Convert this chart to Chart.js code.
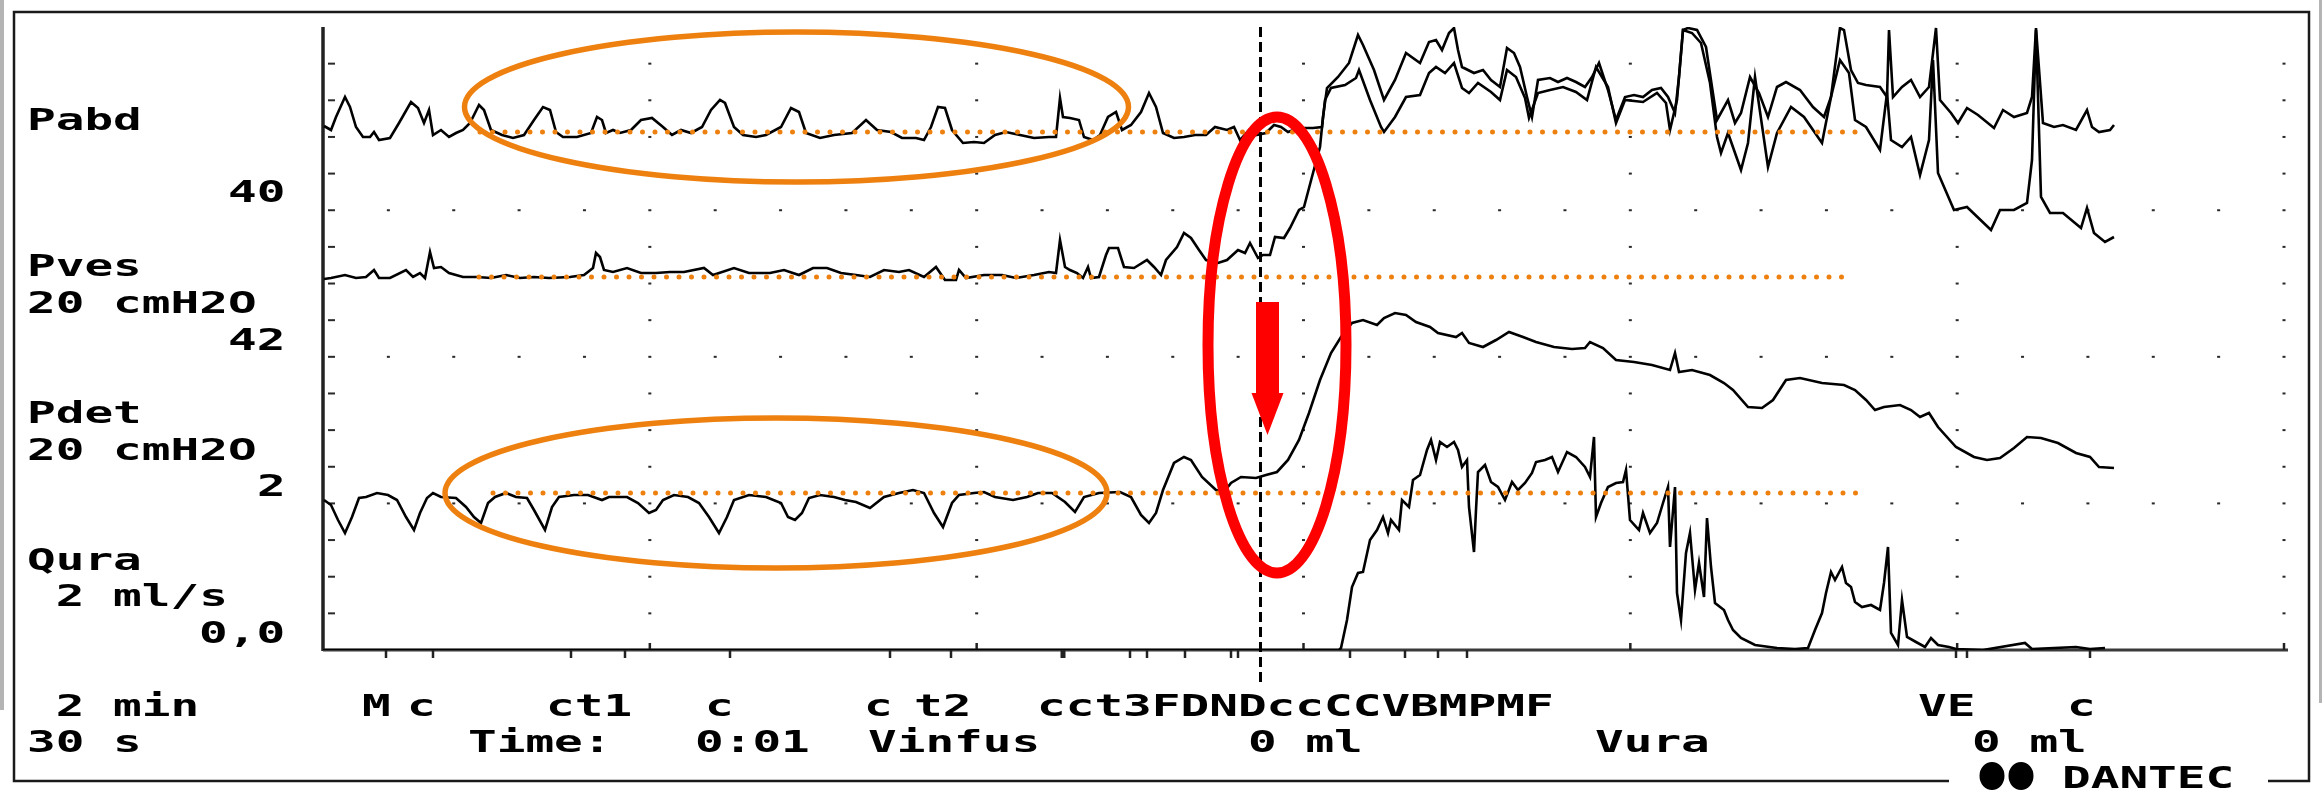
<!DOCTYPE html>
<html lang="en">
<head>
  <meta charset="UTF-8" />
  <title>Urodynamics trace</title>
  <script src="https://cdn.jsdelivr.net/npm/chart.js"></script>
  <style>
    html, body { margin: 0; padding: 0; background: #fff; }
    canvas { display: block; }
  </style>
</head>
<body>
  <canvas id="trace" width="2323" height="791"></canvas>

  <script>
    // x = time in recorder samples (0..1961), y = display level (0..623)
    const pabd = [[1,524],[8,520],[13,533],[22,553],[27,543],[33,523],[40,513],[47,513],[51,518],[56,510],[67,512],[76,527],[88,548],[95,542],[101,527],[106,540],[110,515],[118,520],[126,513],[133,517],[140,520],[147,527],[156,545],[161,540],[168,520],[179,515],[190,512],[201,515],[211,530],[220,543],[227,540],[233,518],[240,513],[254,513],[268,517],[274,533],[279,530],[283,517],[290,520],[297,517],[308,520],[318,530],[329,532],[340,523],[349,515],[358,520],[368,517],[379,523],[388,540],[397,550],[402,547],[411,523],[420,515],[433,513],[443,515],[458,523],[468,542],[476,538],[483,517],[497,512],[511,515],[529,517],[543,530],[554,520],[568,518],[579,512],[593,512],[601,510],[608,523],[615,543],[622,542],[629,520],[640,507],[651,508],[661,507],[672,515],[683,518],[697,515],[711,512],[726,513],[733,513],[737,552],[740,533],[747,532],[756,530],[761,513],[770,510],[777,515],[785,533],[793,538],[799,520],[808,525],[818,538],[826,557],[833,543],[840,517],[851,512],[861,513],[872,515],[883,515],[892,523],[904,520],[911,523],[917,510],[926,520],[933,515],[943,517],[951,525],[958,523],[965,518],[976,522],[990,522],[999,523],[1002,550],[1008,562],[1022,565],[1033,572],[1036,580],[1047,550],[1058,523],[1061,518],[1072,533],[1083,553],[1097,555],[1106,577],[1113,583],[1122,577],[1131,587],[1139,562],[1146,557],[1155,567],[1168,558],[1177,550],[1184,580],[1193,573],[1202,552],[1206,532],[1215,557],[1227,560],[1240,563],[1253,558],[1264,550],[1273,583],[1285,563],[1293,527],[1302,550],[1320,548],[1334,557],[1343,547],[1347,520],[1354,550],[1360,620],[1369,617],[1378,607],[1387,567],[1394,513],[1398,497],[1405,517],[1418,480],[1425,507],[1432,573],[1445,483],[1454,517],[1468,543],[1481,533],[1499,507],[1508,553],[1517,590],[1526,577],[1532,530],[1543,523],[1557,500],[1564,557],[1568,510],[1579,503],[1588,513],[1597,475],[1606,510],[1610,590],[1615,477],[1631,440],[1644,443],[1668,420],[1677,440],[1691,440],[1704,447],[1709,490],[1713,620],[1718,453],[1727,437],[1740,437],[1758,422],[1764,442],[1771,417],[1782,408],[1791,413]];

    const pves = [[1,371],[8,372],[22,375],[33,372],[43,373],[51,380],[56,372],[67,372],[83,380],[90,373],[97,377],[102,372],[107,398],[111,382],[118,383],[126,377],[140,373],[154,373],[168,372],[183,375],[197,372],[211,373],[226,372],[247,373],[261,375],[270,382],[273,397],[277,393],[281,380],[290,378],[304,382],[318,377],[333,377],[347,378],[361,378],[381,382],[390,375],[411,382],[426,377],[447,377],[461,380],[476,375],[490,382],[504,382],[518,377],[533,375],[547,373],[561,380],[576,378],[586,380],[601,373],[613,383],[622,370],[633,370],[636,380],[643,372],[661,375],[679,375],[693,372],[711,375],[726,378],[733,377],[737,410],[742,383],[747,380],[754,377],[760,372],[765,383],[768,372],[776,373],[783,395],[786,402],[795,402],[801,383],[811,382],[824,390],[831,383],[838,375],[843,390],[854,403],[861,417],[868,412],[876,400],[883,390],[895,387],[904,390],[915,400],[922,397],[927,407],[935,392],[940,395],[947,395],[952,413],[961,412],[967,422],[976,440],[981,443],[990,477],[997,503],[1000,533],[1004,562],[1015,573],[1026,587],[1035,615],[1040,605],[1051,580],[1061,550],[1072,570],[1083,597],[1097,587],[1106,608],[1113,610],[1119,600],[1126,617],[1131,622],[1135,600],[1139,583],[1151,577],[1160,580],[1168,570],[1177,563],[1184,602],[1191,597],[1197,583],[1204,553],[1209,533],[1215,570],[1227,572],[1235,568],[1244,572],[1253,568],[1262,563],[1269,573],[1276,587],[1285,560],[1293,530],[1302,553],[1311,555],[1320,553],[1329,560],[1338,562],[1345,553],[1352,537],[1356,573],[1360,620],[1365,622],[1374,620],[1383,603],[1389,563],[1394,530],[1405,550],[1412,527],[1418,537],[1427,573],[1436,557],[1445,533],[1454,563],[1463,568],[1477,560],[1490,543],[1501,533],[1508,553],[1517,622],[1521,620],[1528,580],[1535,567],[1543,565],[1557,563],[1564,553],[1566,620],[1570,553],[1579,563],[1588,570],[1597,553],[1606,563],[1613,622],[1617,550],[1628,537],[1635,527],[1644,542],[1655,535],[1671,522],[1680,540],[1691,533],[1704,537],[1709,553],[1713,622],[1720,527],[1731,523],[1740,525],[1753,520],[1764,540],[1769,523],[1776,518],[1787,520],[1791,525]];

    const pdet = [[1,150],[8,145],[15,130],[22,117],[29,133],[36,152],[43,153],[54,157],[65,155],[74,150],[83,133],[91,120],[97,137],[104,152],[110,157],[118,153],[133,152],[143,143],[151,133],[158,127],[165,147],[172,153],[183,157],[193,153],[204,152],[211,140],[222,120],[229,143],[236,153],[251,155],[265,155],[279,150],[286,153],[304,153],[315,147],[326,137],[333,140],[340,150],[351,155],[365,153],[376,147],[386,133],[396,117],[404,133],[411,150],[426,155],[443,153],[458,147],[465,133],[472,130],[479,137],[486,152],[497,155],[511,153],[522,150],[533,148],[547,142],[561,153],[576,157],[590,160],[601,157],[611,137],[620,123],[629,147],[636,155],[651,157],[661,158],[672,153],[690,150],[704,153],[715,157],[729,157],[742,148],[752,138],[761,153],[776,157],[797,158],[808,153],[818,135],[826,127],[833,137],[840,160],[851,187],[861,193],[868,190],[879,173],[893,160],[901,158],[908,167],[918,173],[933,172],[943,175],[954,178],[965,190],[976,210],[986,237],[997,270],[1008,297],[1018,313],[1029,327],[1040,330],[1054,325],[1061,332],[1072,337],[1083,335],[1093,328],[1107,323],[1115,317],[1133,313],[1139,317],[1146,307],[1160,303],[1173,310],[1186,318],[1200,313],[1213,308],[1231,303],[1249,301],[1262,302],[1267,308],[1280,302],[1293,290],[1311,288],[1329,285],[1347,280],[1352,297],[1356,278],[1369,280],[1387,275],[1401,267],[1410,260],[1425,243],[1439,242],[1450,250],[1463,270],[1477,272],[1499,267],[1521,265],[1532,260],[1543,250],[1552,240],[1561,243],[1577,245],[1588,240],[1597,233],[1606,237],[1615,223],[1633,203],[1651,193],[1664,190],[1677,192],[1691,202],[1704,213],[1718,212],[1735,207],[1753,197],[1767,193],[1776,183],[1791,182]];

    const qura = [[0,0],[1016,0],[1018,2],[1024,30],[1029,63],[1035,77],[1040,78],[1047,110],[1054,120],[1060,133],[1065,117],[1068,130],[1076,120],[1079,150],[1086,143],[1090,170],[1097,175],[1104,200],[1108,210],[1113,190],[1117,208],[1124,203],[1131,208],[1135,200],[1139,183],[1144,190],[1146,143],[1151,98],[1153,140],[1155,178],[1162,185],[1168,168],[1175,163],[1182,150],[1189,168],[1195,160],[1202,167],[1209,177],[1213,188],[1222,190],[1229,193],[1235,178],[1244,198],[1253,193],[1262,183],[1267,173],[1271,213],[1273,133],[1278,147],[1285,163],[1293,167],[1300,168],[1303,180],[1307,130],[1316,120],[1320,137],[1327,117],[1334,127],[1340,147],[1345,163],[1347,103],[1352,163],[1354,57],[1358,30],[1363,97],[1367,117],[1372,60],[1376,87],[1381,53],[1384,132],[1388,83],[1392,47],[1401,40],[1405,30],[1410,20],[1418,12],[1432,5],[1454,2],[1472,1],[1485,2],[1492,20],[1499,37],[1503,57],[1508,78],[1512,70],[1519,83],[1523,67],[1528,63],[1532,48],[1539,43],[1548,45],[1557,40],[1561,67],[1565,103],[1568,17],[1575,5],[1579,50],[1584,13],[1593,8],[1602,3],[1608,12],[1615,5],[1626,3],[1633,1],[1660,0],[1702,7],[1709,1],[1753,3],[1767,1],[1782,2]];

    // resting levels marked with orange dots: [from, to, level]
    const restLevels = [[157, 1537, 518], [156, 1523, 373], [170, 1537, 157]];
    // event marks on the time axis
    const eventMarks = [63, 110, 248, 302, 407, 567, 628, 740, 807, 824, 862, 908, 915, 1027, 1082, 1115, 1144, 1633, 1644, 1767];
    const thickMarks = [740];
    const voidStart = 937.5;

    const X_MAX = 1961, Y_MAX = 623;
    const COLS = 30, ROWS = 17;
    const baseRows = [4, 8, 12];

    // annotations: [cx, cy, rx, ry]
    const orangeRings = [[473.5, 543, 332, 75], [453, 157, 331, 75]];
    const redRing = [954, 305, 69, 228];
    const redArrow = { x: 944.5, top: 348, neck: 257, tip: 215 };

    const sideLabels = [
      ['Pabd', 27, 130], ['40', 228, 202],
      ['Pves', 27, 276], ['20 cmH2O', 27, 313], ['42', 228, 350],
      ['Pdet', 27, 423], ['20 cmH2O', 27, 460], ['2', 257, 496],
      ['Qura', 27, 570], [' 2 ml/s', 27, 606], ['0,0', 199, 643],
      [' 2 min', 27, 716], ['30 s', 27, 752]
    ];
    const bottomLabels = [
      ['M', 362, 716], ['c', 407, 716], ['ct1', 546, 716], ['c', 705, 716],
      ['c', 864, 716], ['t2', 914, 716], ['cct3FDNDccCCVBMPMF', 1037, 716],
      ['VE', 1918, 716], ['c', 2067, 716],
      ['Time:', 468, 752], ['0:01', 695, 752], ['Vinfus', 868, 752],
      ['0 ml', 1248, 752], ['Vura', 1595, 752], ['0 ml', 1972, 752]
    ];

    const toXY = arr => arr.map(p => ({ x: p[0], y: p[1] }));
    const ORANGE = '#EE800F';

    function traceSet(label, pts) {
      return {
        label, data: toXY(pts), borderColor: '#000', borderWidth: 2.6,
        borderJoinStyle: 'miter', pointRadius: 0, order: 3
      };
    }

    const datasets = [
      traceSet('Pabd', pabd), traceSet('Pves', pves), traceSet('Pdet', pdet), traceSet('Qura', qura)
    ];
    restLevels.forEach(r => {
      datasets.push({
        data: [{ x: r[0], y: r[2] }, { x: r[1], y: r[2] }],
        borderColor: ORANGE, borderWidth: 5, borderDash: [0, 12.5],
        borderCapStyle: 'round', pointRadius: 0, order: 1
      });
    });
    datasets.push({
      data: [{ x: voidStart, y: Y_MAX }, { x: voidStart, y: -37 }],
      borderColor: '#000', borderWidth: 3, borderDash: [10, 5],
      pointRadius: 0, clip: false, order: 2
    });

    const gridPlugin = {
      id: 'grid',
      beforeDatasetsDraw(chart) {
        const { ctx } = chart;
        const xs = chart.scales.x, ys = chart.scales.y;
        const cw = X_MAX / COLS, rh = Y_MAX / ROWS;
        ctx.save();
        ctx.fillStyle = '#2a2a2a';
        for (let k = 1; k < ROWS; k++) {
          const py = ys.getPixelForValue(k * rh);
          ctx.fillRect(xs.getPixelForValue(0) + 5, py - 1, 7, 2);
          for (let i = 1; i <= COLS; i++) {
            if (i % 5 === 0 || baseRows.includes(k)) {
              ctx.fillRect(xs.getPixelForValue(i * cw) - 1.5, py - 1, 3, 2);
            }
          }
        }
        const x0 = xs.getPixelForValue(0), y0 = ys.getPixelForValue(0);
        // axes
        ctx.strokeStyle = '#222';
        ctx.lineWidth = 3.5;
        ctx.beginPath();
        ctx.moveTo(x0, ys.getPixelForValue(Y_MAX));
        ctx.lineTo(x0, y0 + 1);
        ctx.stroke();
        ctx.strokeStyle = '#3a3a3a';
        ctx.lineWidth = 3;
        ctx.beginPath();
        ctx.moveTo(x0, y0);
        ctx.lineTo(xs.getPixelForValue(X_MAX + 4), y0);
        ctx.stroke();
        // major ticks up, event marks down
        ctx.lineWidth = 2.5;
        ctx.strokeStyle = '#222';
        for (let i = 5; i <= COLS; i += 5) {
          const px = xs.getPixelForValue(i * cw);
          ctx.beginPath(); ctx.moveTo(px, y0); ctx.lineTo(px, y0 - 7); ctx.stroke();
        }
        eventMarks.forEach(e => {
          ctx.lineWidth = thickMarks.includes(e) ? 5 : 2.5;
          const px = xs.getPixelForValue(e);
          ctx.beginPath(); ctx.moveTo(px, y0); ctx.lineTo(px, y0 + 8); ctx.stroke();
        });
        ctx.restore();
      }
    };

    function ring(ctx, xs, ys, r) {
      const cx = xs.getPixelForValue(r[0]), cy = ys.getPixelForValue(r[1]);
      const rx = xs.getPixelForValue(r[0] + r[2]) - cx;
      const ry = cy - ys.getPixelForValue(r[1] + r[3]);
      ctx.beginPath();
      ctx.ellipse(cx, cy, rx, ry, 0, 0, Math.PI * 2);
      ctx.stroke();
    }

    const notesPlugin = {
      id: 'notes',
      afterDatasetsDraw(chart) {
        const { ctx } = chart;
        const xs = chart.scales.x, ys = chart.scales.y;
        ctx.save();
        ctx.strokeStyle = ORANGE;
        ctx.lineWidth = 5.5;
        orangeRings.forEach(r => ring(ctx, xs, ys, r));
        ctx.strokeStyle = '#FF0000';
        ctx.lineWidth = 11;
        ring(ctx, xs, ys, redRing);
        // arrow
        const ax = xs.getPixelForValue(redArrow.x);
        const top = ys.getPixelForValue(redArrow.top);
        const neck = ys.getPixelForValue(redArrow.neck);
        const tip = ys.getPixelForValue(redArrow.tip);
        ctx.fillStyle = '#FF0000';
        ctx.fillRect(ax - 11.5, top, 23, neck - top);
        ctx.beginPath();
        ctx.moveTo(ax - 16, neck);
        ctx.lineTo(ax + 16, neck);
        ctx.lineTo(ax, tip);
        ctx.closePath();
        ctx.fill();
        ctx.restore();
      }
    };

    const framePlugin = {
      id: 'frame',
      afterDraw(chart) {
        const { ctx } = chart;
        ctx.save();
        // window edges
        ctx.fillStyle = '#b4b4b4';
        ctx.fillRect(0, 0, 4, 710);
        ctx.fillRect(2319, 0, 3, 703);
        // outer frame, broken at the maker mark
        ctx.strokeStyle = '#1a1a1a';
        ctx.lineWidth = 2.5;
        ctx.beginPath();
        ctx.moveTo(1949, 781); ctx.lineTo(14, 781); ctx.lineTo(14, 12);
        ctx.lineTo(2309, 12); ctx.lineTo(2309, 781); ctx.lineTo(2268, 781);
        ctx.stroke();

        ctx.font = 'bold 31px "DejaVu Sans Mono"';
        ctx.fillStyle = '#000';
        ctx.textBaseline = 'alphabetic';
        const sx = 28.7 / ctx.measureText('0').width;
        const put = (s, x, y) => {
          ctx.save(); ctx.translate(x, y); ctx.scale(sx, 1); ctx.fillText(s, 0, 0); ctx.restore();
        };
        sideLabels.forEach(l => put(l[0], l[1], l[2]));
        bottomLabels.forEach(l => put(l[0], l[1], l[2]));

        // maker mark
        ctx.beginPath();
        ctx.ellipse(1992, 776, 12.5, 14, 0, 0, Math.PI * 2);
        ctx.ellipse(2021, 776, 12.5, 14, 0, 0, Math.PI * 2);
        ctx.fill();
        put('DANTEC', 2062, 788);
        ctx.restore();
      }
    };

    new Chart(document.getElementById('trace'), {
      type: 'line',
      data: { datasets },
      options: {
        responsive: false,
        devicePixelRatio: 1,
        animation: false,
        layout: { padding: { left: 323, right: 39, top: 27, bottom: 141 } },
        scales: {
          x: { type: 'linear', min: 0, max: X_MAX, display: false },
          y: { type: 'linear', min: 0, max: Y_MAX, display: false }
        },
        elements: { line: { tension: 0 } },
        plugins: { legend: { display: false }, tooltip: { enabled: false } }
      },
      plugins: [gridPlugin, notesPlugin, framePlugin]
    });
  </script>
</body>
</html>
